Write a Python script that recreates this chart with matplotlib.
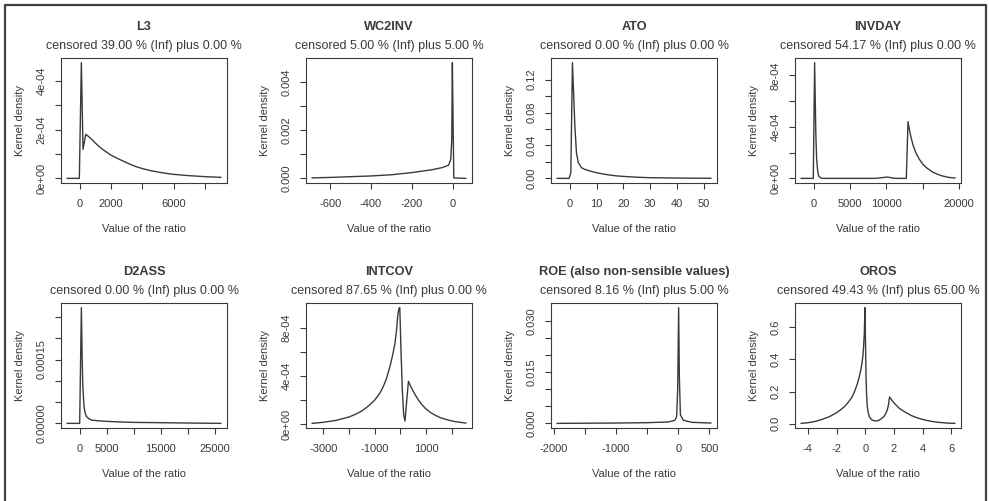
import matplotlib
matplotlib.use("Agg")
import matplotlib.pyplot as plt
from matplotlib.lines import Line2D
import numpy as np

plt.rcParams['font.family'] = ['Liberation Sans', 'DejaVu Sans']
plt.rcParams['axes.unicode_minus'] = False

# ---------------- data ----------------
titles = ["L3", "WC2INV", "ATO", "INVDAY",
          "D2ASS", "INTCOV", "ROE (also non-sensible values)", "OROS"]
subtitles = ["censored 39.00 % (Inf) plus 0.00 %",
             "censored 5.00 % (Inf) plus 5.00 %",
             "censored 0.00 % (Inf) plus 0.00 %",
             "censored 54.17 % (Inf) plus 0.00 %",
             "censored 0.00 % (Inf) plus 0.00 %",
             "censored 87.65 % (Inf) plus 0.00 %",
             "censored 8.16 % (Inf) plus 5.00 %",
             "censored 49.43 % (Inf) plus 65.00 %"]

l3_x = [-796, -20, 108, 215, 387, 600, 800, 1000, 1200, 1500, 1800, 2000, 2400,
        2800, 3200, 3600, 4000, 4500, 5000, 5500, 6000, 6500, 7000, 7500, 8000,
        8500, 8989]
l3_y = [0, 0, 4.75e-4, 1.19e-4, 1.81e-4, 1.70e-4, 1.58e-4, 1.45e-4, 1.33e-4,
        1.17e-4, 1.04e-4, 0.95e-4, 0.82e-4, 0.70e-4, 0.58e-4, 0.48e-4, 0.40e-4,
        0.32e-4, 0.26e-4, 0.205e-4, 0.165e-4, 0.135e-4, 0.11e-4, 0.09e-4,
        0.07e-4, 0.055e-4, 0.04e-4]

wc_x = [-688, -600, -500, -400, -300, -200, -100, -50, -20, -10, -5, -2, 2, 5, 64]
wc_y = [0.00002, 0.00004, 0.00007, 0.0001, 0.00015, 0.00024, 0.00036, 0.00045,
        0.00055, 0.0008, 0.0016, 0.0048, 0.0020, 0.00002, 0.0]

ato_x = [-4.7, -0.25, 0.4, 1.0, 1.9, 2.5, 3.2, 4.4, 5.5, 7.6, 10, 12.5, 15,
         17.5, 20, 25, 30, 35, 40, 46, 52.6]
ato_y = [0, 0, 0.007, 0.1406, 0.0636, 0.031, 0.019, 0.013, 0.011, 0.0089,
         0.0069, 0.0053, 0.004, 0.003, 0.0024, 0.0014, 0.0008, 0.0006, 0.0004,
         0.0002, 0.0001]

inv_x = [-1713, -46, 139, 300, 417, 550, 694, 1065, 8472, 10093, 11250, 12731,
         12963, 13150, 13333, 13650, 14028, 14500, 15000, 15600, 16343, 17000,
         17731, 18500, 19398]
inv_y = [0, 0, 8.98e-4, 3.5e-4, 1.48e-4, 0.6e-4, 0.18e-4, 0, 0, 0.1e-4, 0, 0,
         4.40e-4, 3.8e-4, 3.29e-4, 2.6e-4, 2.0e-4, 1.5e-4, 1.09e-4, 0.78e-4,
         0.49e-4, 0.32e-4, 0.18e-4, 0.08e-4, 0.03e-4]

d2_x = [-2313, 0, 313, 450, 563, 700, 813, 1000, 1250, 1700, 2188, 3500, 5000,
        7500, 10000, 15000, 20000, 26063]
d2_y = [0, 0, 2.72e-4, 1.6e-4, 0.94e-4, 0.6e-4, 0.39e-4, 0.25e-4, 0.16e-4,
        0.11e-4, 0.078e-4, 0.06e-4, 0.047e-4, 0.033e-4, 0.023e-4, 0.016e-4,
        0.008e-4, 0]

ic_x = [-3434, -3000, -2500, -2000, -1750, -1500, -1250, -1000, -800, -671,
        -550, -408, -300, -211, -150, -105, -70, -40, -20, 26, 79, 132, 184,
        237, 316, 447, 600, 711, 850, 987, 1200, 1368, 1550, 1763, 1950, 2158,
        2350, 2553]
ic_y = [0.05e-4, 0.14e-4, 0.30e-4, 0.58e-4, 0.80e-4, 1.08e-4, 1.48e-4, 1.97e-4,
        2.55e-4, 3.07e-4, 3.70e-4, 4.73e-4, 5.70e-4, 6.67e-4, 7.70e-4, 8.89e-4,
        9.40e-4, 9.65e-4, 9.66e-4, 6.12e-4, 2.80e-4, 0.72e-4, 0.25e-4, 1.6e-4,
        3.54e-4, 2.93e-4, 2.35e-4, 1.97e-4, 1.58e-4, 1.27e-4, 0.92e-4, 0.72e-4,
        0.53e-4, 0.39e-4, 0.28e-4, 0.19e-4, 0.13e-4, 0.08e-4]

roe_x = [-1946, -1000, -500, -163, -54, -27, -11, 5, 16, 33, 82, 217, 522]
roe_y = [0.0, 0.0001, 0.0002, 0.0004, 0.0009, 0.002, 0.0098, 0.0339, 0.0137,
         0.0025, 0.0009, 0.0003, 0.0001]

oros_x = [-4.47, -4, -3.5, -3, -2.5, -2, -1.7, -1.41, -1.2, -0.99, -0.85, -0.71,
          -0.55, -0.42, -0.32, -0.235, -0.17, -0.12, -0.07, -0.02, 0.05, 0.09,
          0.14, 0.2, 0.28, 0.37, 0.47, 0.6, 0.71, 0.83, 0.94, 1.1, 1.29, 1.42,
          1.53, 1.62, 1.69, 1.78, 1.88, 2.1, 2.35, 2.65, 2.94, 3.23, 3.53, 3.9,
          4.24, 4.6, 4.94, 5.3, 5.65, 6.24]
oros_y = [0.002, 0.006, 0.014, 0.027, 0.044, 0.068, 0.088, 0.11, 0.132, 0.157,
          0.18, 0.209, 0.25, 0.292, 0.33, 0.375, 0.42, 0.479, 0.56, 0.723,
          0.292, 0.18, 0.106, 0.07, 0.044, 0.032, 0.023, 0.019, 0.017, 0.018,
          0.021, 0.03, 0.044, 0.062, 0.085, 0.12, 0.166, 0.155, 0.143, 0.12,
          0.097, 0.079, 0.064, 0.05, 0.039, 0.029, 0.021, 0.015, 0.010, 0.007,
          0.004, 0.002]

curves_x = [l3_x, wc_x, ato_x, inv_x, d2_x, ic_x, roe_x, oros_x]
curves_y = [l3_y, wc_y, ato_y, inv_y, d2_y, ic_y, roe_y, oros_y]

x_ticks = [[0, 2000, 4000, 6000, 8000],
           [-600, -400, -200, 0],
           [0, 10, 20, 30, 40, 50],
           [0, 5000, 10000, 15000, 20000],
           [0, 5000, 10000, 15000, 20000, 25000],
           [-3000, -2000, -1000, 0, 1000, 2000],
           [-2000, -1500, -1000, -500, 0, 500],
           [-4, -2, 0, 2, 4, 6]]
x_labels = [["0", "2000", "", "6000", ""],
            ["-600", "-400", "-200", "0"],
            ["0", "10", "20", "30", "40", "50"],
            ["0", "5000", "10000", "", "20000"],
            ["0", "5000", "", "15000", "", "25000"],
            ["-3000", "", "-1000", "", "1000", ""],
            ["-2000", "", "-1000", "", "0", "500"],
            ["-4", "-2", "0", "2", "4", "6"]]
y_ticks = [[0, 1e-4, 2e-4, 3e-4, 4e-4],
           [0, 0.001, 0.002, 0.003, 0.004],
           [0, 0.02, 0.04, 0.06, 0.08, 0.10, 0.12],
           [0, 2e-4, 4e-4, 6e-4, 8e-4],
           [0, 5e-5, 1e-4, 1.5e-4, 2e-4, 2.5e-4],
           [0, 2e-4, 4e-4, 6e-4, 8e-4],
           [0, 0.005, 0.010, 0.015, 0.020, 0.025, 0.030],
           [0, 0.2, 0.4, 0.6]]
y_labels = [["0e+00", "", "2e-04", "", "4e-04"],
            ["0.000", "", "0.002", "", "0.004"],
            ["0.00", "", "0.04", "", "0.08", "", "0.12"],
            ["0e+00", "", "4e-04", "", "8e-04"],
            ["0.00000", "", "", "0.00015", "", ""],
            ["0e+00", "", "4e-04", "", "8e-04"],
            ["0.000", "", "", "0.015", "", "", "0.030"],
            ["0.0", "0.2", "0.4", "0.6"]]

# ---------------- layout ----------------
W, H = 989, 501
fig = plt.figure(figsize=(W / 100, H / 100), dpi=100)
col_left = [61, 306, 551, 795]
row_top = [58, 303]
bw, bh = 166, 125
ink = "#3a3a3a"
fs = 8.0

for i in range(8):
    r, c = divmod(i, 4)
    l = col_left[c]
    t = row_top[r]
    ax = fig.add_axes([l / W, 1 - (t + bh) / H, bw / W, bh / H])
    xs = np.array(curves_x[i], dtype=float)
    ys = np.array(curves_y[i], dtype=float)
    ax.plot(xs, ys, color=ink, lw=1.0)
    xr = xs.max() - xs.min()
    ax.set_xlim(xs.min() - 0.04 * xr, xs.max() + 0.04 * xr)
    yr = ys.max() - ys.min()
    ax.set_ylim(ys.min() - 0.04 * yr, ys.max() + 0.04 * yr)
    ax.set_xticks(x_ticks[i])
    ax.set_xticklabels(x_labels[i])
    ax.set_yticks(y_ticks[i])
    ax.set_yticklabels(y_labels[i], rotation=90, va='center')
    ax.tick_params(direction='out', length=4.5, width=0.8, color=ink,
                   labelsize=fs, labelcolor=ink)
    ax.tick_params(axis='x', pad=7)
    ax.tick_params(axis='y', pad=6)
    for s in ax.spines.values():
        s.set_color(ink)
        s.set_linewidth(0.8)
    ax.set_xlabel("Value of the ratio", fontsize=fs, color=ink, labelpad=10.5)
    ax.set_ylabel("Kernel density", fontsize=fs, color=ink, labelpad=8)
    cx = (l + bw / 2) / W
    fig.text(cx, 1 - (t - 31) / H, titles[i], ha='center', va='center',
             fontsize=9.2, fontweight='bold', color=ink)
    fig.text(cx, 1 - (t - 12) / H, subtitles[i], ha='center', va='center',
             fontsize=9.0, color=ink)

# outer frame (bottom edge falls outside the picture)
frame_x = [5 / W, 5 / W, 986 / W, 986 / W]
frame_y = [0, 1 - 5 / H, 1 - 5 / H, 0]
fig.add_artist(Line2D(frame_x, frame_y, color="#404040", lw=1.6,
                      transform=fig.transFigure))

fig.savefig("out.png", dpi=100, facecolor="white")
